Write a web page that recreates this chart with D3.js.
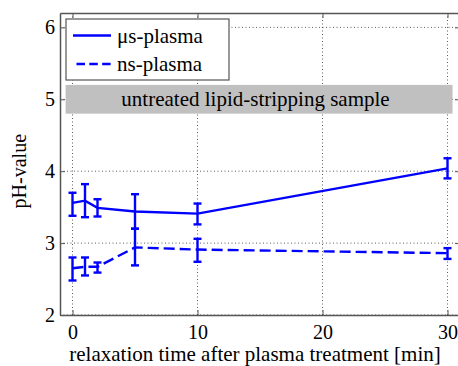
<!DOCTYPE html>
<html lang="en">
<head>
  <meta charset="UTF-8">
  <title>pH relaxation</title>
  <style>
    body { margin: 0; background: #fff; }
  </style>
</head>
<body>
    <script src="https://cdn.jsdelivr.net/npm/d3@7/dist/d3.min.js"></script>
    <script>
      const width = 458
      const height = 366
      const serif = "'Liberation Serif'"

      // relaxation time [min]
      const times = [0, 1, 2, 5, 10, 30]
      // us-plasma mean / lower / upper
      const usMean = [3.56, 3.59, 3.49, 3.44, 3.41, 4.04]
      const usLow  = [3.38, 3.36, 3.37, 3.20, 3.26, 3.90]
      const usHigh = [3.70, 3.82, 3.61, 3.68, 3.55, 4.18]
      // ns-plasma mean / lower / upper
      const nsMean = [2.65, 2.67, 2.67, 2.94, 2.91, 2.86]
      const nsLow  = [2.48, 2.55, 2.59, 2.69, 2.74, 2.78]
      const nsHigh = [2.80, 2.80, 2.73, 3.20, 3.06, 2.93]

      const xTicks = [0, 10, 20, 30]
      const yTicks = [2, 3, 4, 5, 6]
      const seriesNames = ["\u03bcs-plasma", "ns-plasma"]
      const bandLabel = "untreated lipid-stripping sample"
      const bandRange = [4.8, 5.2]

      const margin = {left: 60, top: 13, right: -2, bottom: 51}

      const svg = d3.select("body")
        .append("svg")
        .attr("width", width)
        .attr("height", height)

      const x = d3.scaleLinear().domain([-1, 31])
        .range([margin.left, width - margin.right])
      const y = d3.scaleLinear().domain([2, 6.2])
        .range([height - margin.bottom, margin.top])

      const g = svg.append("g")

      // grid (dotted)
      g.selectAll(".gx").data(xTicks).enter().append("line")
        .attr("x1", d => x(d)).attr("x2", d => x(d))
        .attr("y1", y.range()[0]).attr("y2", y.range()[1])
        .attr("stroke", "#333").attr("stroke-width", 0.8)
        .attr("stroke-dasharray", "1,2.5")
      g.selectAll(".gy").data(yTicks).enter().append("line")
        .attr("x1", x.range()[0]).attr("x2", x.range()[1])
        .attr("y1", d => y(d)).attr("y2", d => y(d))
        .attr("stroke", "#333").attr("stroke-width", 0.8)
        .attr("stroke-dasharray", "1,2.5")

      // grey band
      g.append("rect")
        .attr("x", x(-0.55)).attr("width", x(30.4) - x(-0.55))
        .attr("y", y(bandRange[1])).attr("height", y(bandRange[0]) - y(bandRange[1]))
        .attr("fill", "#c0c0c0")
      g.append("text")
        .attr("x", 255.5).attr("y", y(5) + 7)
        .attr("text-anchor", "middle")
        .style("font-family", serif).style("font-size", "21px")
        .text(bandLabel)

      // axes box
      const xAxis = d3.axisBottom(x).tickValues(xTicks).tickFormat(d3.format("d"))
        .tickSizeInner(-5).tickSizeOuter(0).tickPadding(10)
      const xTop = d3.axisTop(x).tickValues(xTicks).tickSizeInner(-5).tickSizeOuter(0).tickFormat("")
      const yAxis = d3.axisLeft(y).tickValues(yTicks).tickFormat(d3.format("d"))
        .tickSizeInner(-5).tickSizeOuter(0).tickPadding(5)
      const yRight = d3.axisRight(y).tickValues(yTicks).tickSizeInner(-5).tickSizeOuter(0).tickFormat("")

      function style(sel) {
        sel.select(".domain").attr("stroke", "#555").attr("stroke-width", 1.5)
        sel.selectAll(".tick line").attr("stroke", "#555")
        sel.selectAll(".tick text")
          .style("font-family", serif).style("font-size", "20px").attr("fill", "#000")
      }
      svg.append("g").attr("transform", `translate(0,${y(2)})`).call(xAxis).call(style)
      svg.append("g").attr("transform", `translate(0,${y(6.2)})`).call(xTop).call(style)
      svg.append("g").attr("transform", `translate(${x(-1)},0)`).call(yAxis).call(style)
      svg.append("g").attr("transform", `translate(${x(31)},0)`).call(yRight).call(style)

      // series
      const blue = "#0000ff"
      const series = [
        {mean: usMean, low: usLow, high: usHigh, dash: null},
        {mean: nsMean, low: nsLow, high: nsHigh, dash: "11,5"}
      ]
      const line = d3.line().x(d => x(d[0])).y(d => y(d[1]))

      series.forEach(s => {
        const pts = times.map((t, i) => [t, s.mean[i], s.low[i], s.high[i]])
        const sg = svg.append("g")
        sg.append("path").datum(pts)
          .attr("d", line)
          .attr("fill", "none").attr("stroke", blue).attr("stroke-width", 2.4)
          .attr("stroke-dasharray", s.dash)
        const eb = sg.selectAll(".eb").data(pts).enter().append("g")
        eb.append("line")
          .attr("x1", d => x(d[0])).attr("x2", d => x(d[0]))
          .attr("y1", d => y(d[2])).attr("y2", d => y(d[3]))
          .attr("stroke", blue).attr("stroke-width", 2.4)
        eb.selectAll(".cap").data(d => [[d[0], d[2]], [d[0], d[3]]]).enter().append("line")
          .attr("x1", d => x(d[0]) - 4).attr("x2", d => x(d[0]) + 4)
          .attr("y1", d => y(d[1])).attr("y2", d => y(d[1]))
          .attr("stroke", blue).attr("stroke-width", 2.4)
      })

      // legend
      const leg = svg.append("g")
      leg.append("rect")
        .attr("x", 66).attr("y", 19).attr("width", 163).attr("height", 61)
        .attr("fill", "#fff").attr("stroke", "#555").attr("stroke-width", 1.2)
      seriesNames.forEach((name, i) => {
        const ly = 35.5 + i * 28.5
        leg.append("line")
          .attr("x1", series[i].dash ? 76.5 : 73).attr("x2", 111).attr("y1", ly).attr("y2", ly)
          .attr("stroke", blue).attr("stroke-width", 2.4)
          .attr("stroke-dasharray", series[i].dash ? "8.5,4.3" : null)
        leg.append("text")
          .attr("x", 117).attr("y", ly + 7)
          .style("font-family", serif).style("font-size", "21px")
          .text(name)
      })

      // axis labels
      svg.append("text")
        .attr("x", 255).attr("y", 361)
        .attr("text-anchor", "middle")
        .style("font-family", serif).style("font-size", "21px")
        .text("relaxation time after plasma treatment [min]")
      svg.append("text")
        .attr("transform", `translate(26,${y(4.0)}) rotate(-90)`)
        .attr("text-anchor", "middle")
        .style("font-family", serif).style("font-size", "20px")
        .text("pH-value")
    </script>
</body>
</html>
